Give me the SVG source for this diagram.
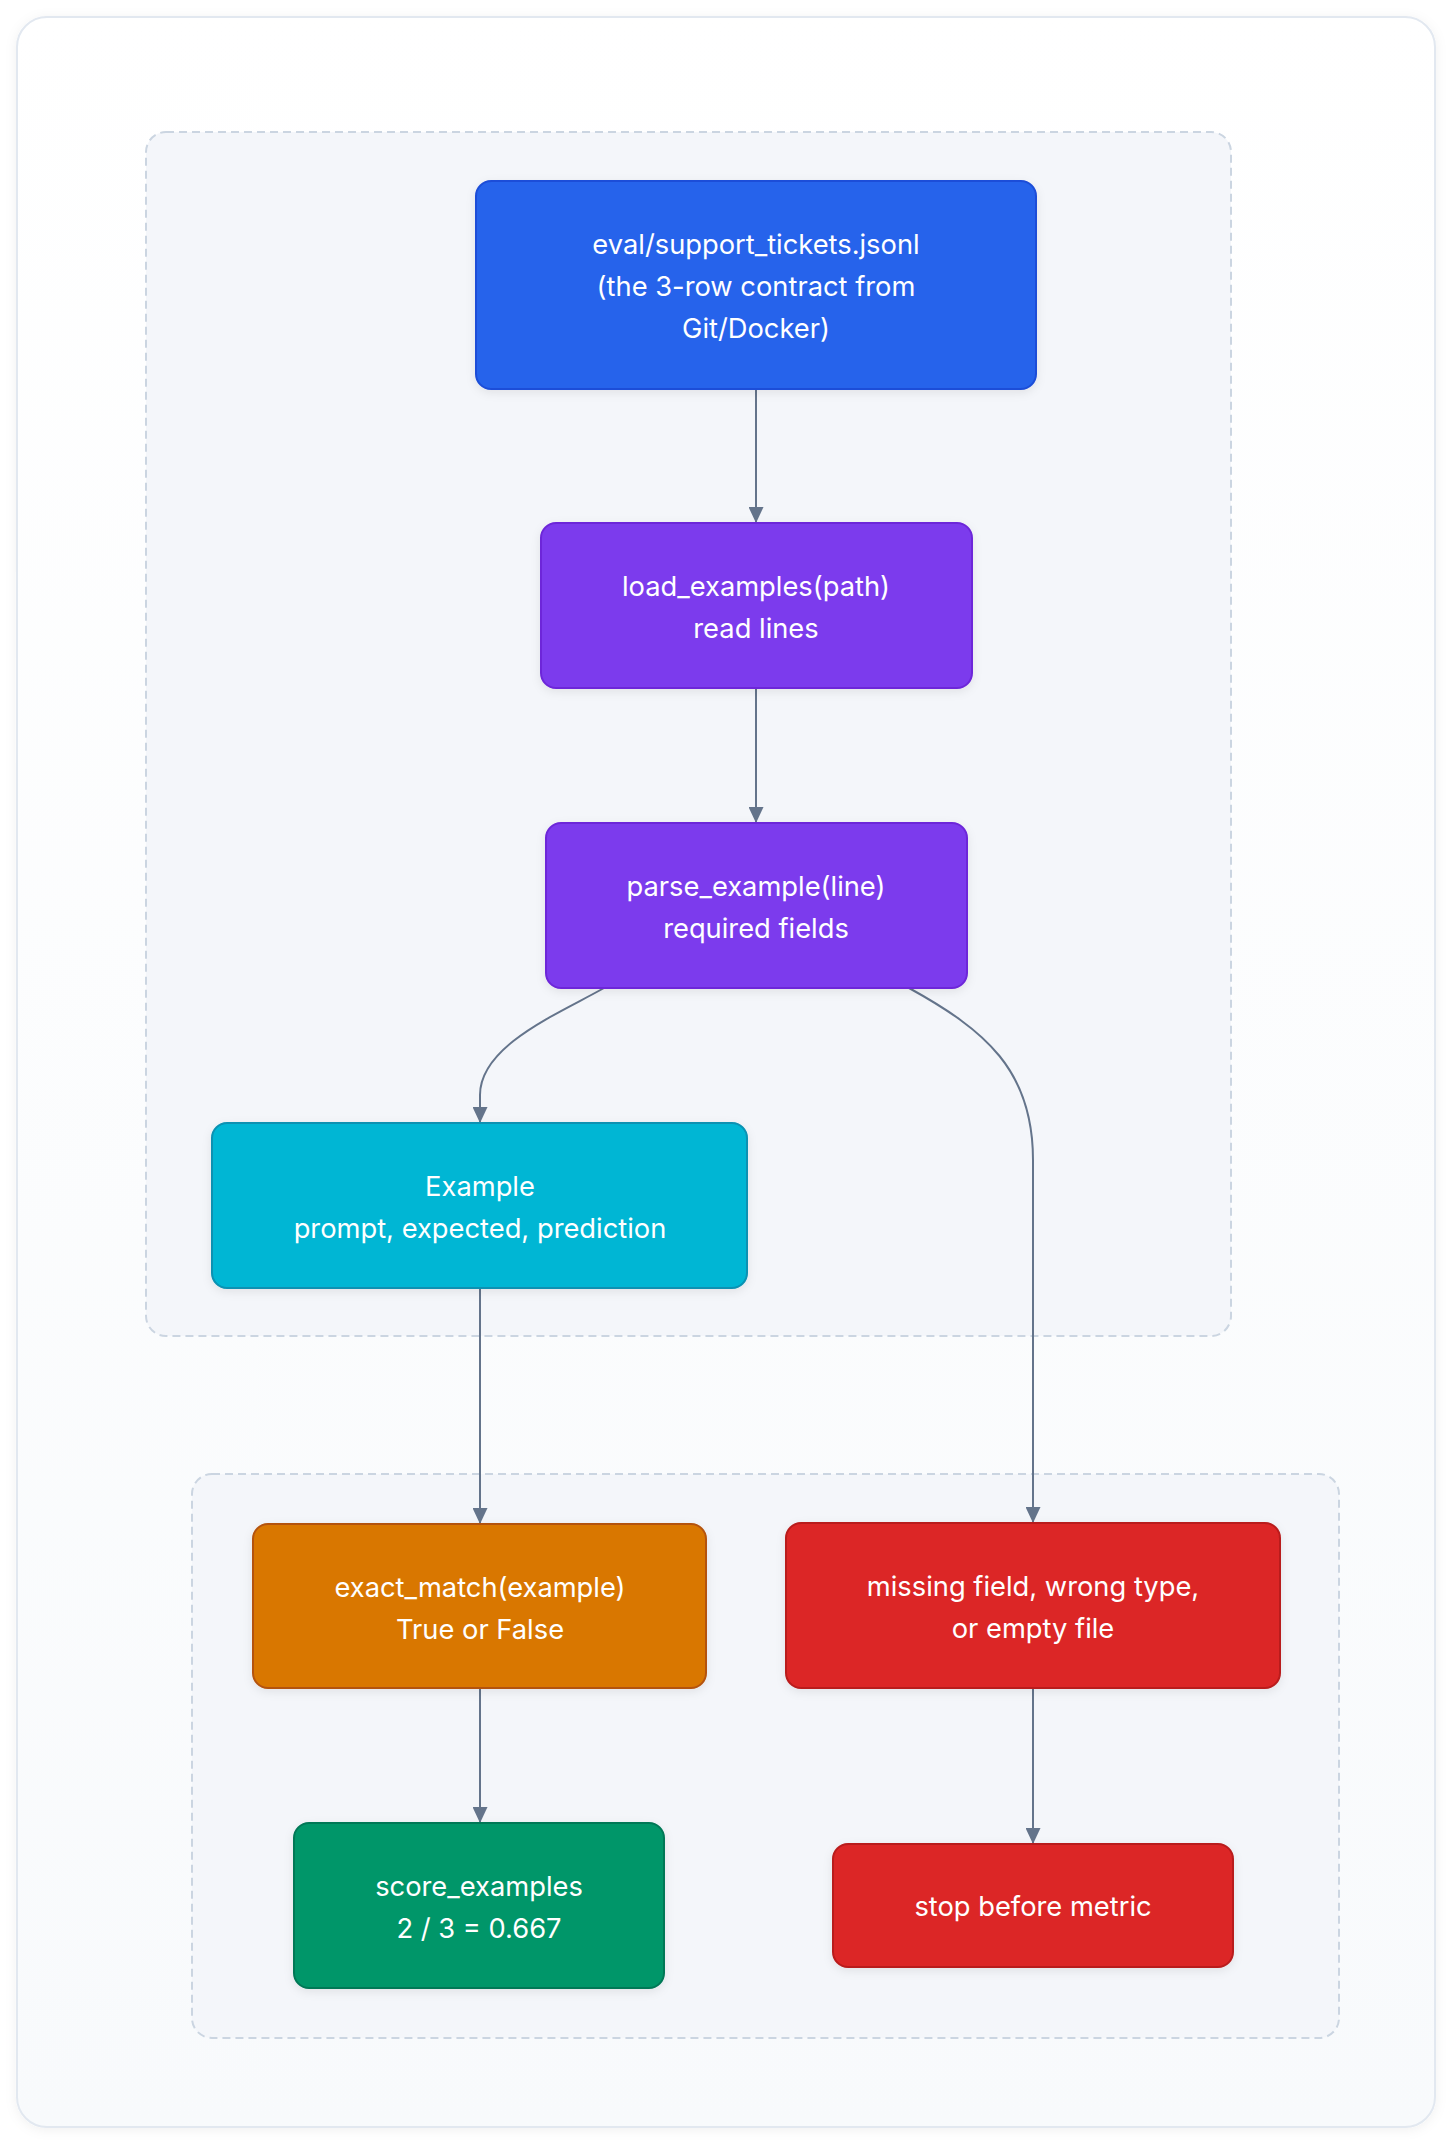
<svg xmlns="http://www.w3.org/2000/svg" width="1452" height="2144" viewBox="0 0 1452 2144">
  <style>
    .lbl { font-family: Inter, "Noto Sans", "Liberation Sans", sans-serif; font-size: 27.3px; fill: #ffffff; text-anchor: middle; }
    .cluster { fill: #f4f6fa; stroke: #cbd5e1; stroke-width: 2; stroke-dasharray: 8 5; }
    .edge { fill: none; stroke: #64748b; stroke-width: 2; }
    .node { stroke-width: 2; filter: url(#nshadow); }
  </style>
  <defs>
    <linearGradient id="cardbg" x1="0" y1="0" x2="0" y2="1">
      <stop offset="0" stop-color="#ffffff"/>
      <stop offset="1" stop-color="#f8fafc"/>
    </linearGradient>
    <filter id="cshadow" x="-5%" y="-5%" width="110%" height="110%">
      <feDropShadow dx="0" dy="2" stdDeviation="6" flood-color="#0f172a" flood-opacity="0.06"/>
    </filter>
    <filter id="nshadow" x="-10%" y="-10%" width="120%" height="130%">
      <feDropShadow dx="0" dy="3" stdDeviation="5" flood-color="#0f172a" flood-opacity="0.08"/>
    </filter>
    <marker id="arrow" viewBox="0 0 16 15" refX="16" refY="7.5" markerWidth="16" markerHeight="15" markerUnits="userSpaceOnUse" orient="auto">
      <path d="M0,0 L16,7.5 L0,15 Z" fill="#64748b"/>
    </marker>
  </defs>

  <rect x="0" y="0" width="1452" height="2144" fill="#ffffff"/>
  <rect x="17" y="17" width="1418" height="2110" rx="30" fill="url(#cardbg)" stroke="#e2e8f0" stroke-width="2" filter="url(#cshadow)"/>

  <g id="clusters">
    <rect id="cluster-load" class="cluster" x="146" y="132" width="1085" height="1204" rx="20"/>
    <rect id="cluster-score" class="cluster" x="192" y="1474" width="1147" height="564" rx="20"/>
  </g>

  <g id="connectors">
    <path class="edge" d="M756,389 L756,523" marker-end="url(#arrow)"/>
    <path class="edge" d="M756,688 L756,823" marker-end="url(#arrow)"/>
    <path class="edge" d="M604,988 C560,1013 480,1045 480,1095 L480,1123" marker-end="url(#arrow)"/>
    <path class="edge" d="M909,988 C985,1030 1033,1070 1033,1160 L1033,1523" marker-end="url(#arrow)"/>
    <path class="edge" d="M480,1288 L480,1524" marker-end="url(#arrow)"/>
    <path class="edge" d="M480,1688 L480,1823" marker-end="url(#arrow)"/>
    <path class="edge" d="M1033,1688 L1033,1844" marker-end="url(#arrow)"/>
  </g>

  <g id="node-source">
    <rect class="node" x="476" y="181" width="560" height="208" rx="15" fill="#2563eb" stroke="#1d4ed8"/>
    <text class="lbl" x="756" y="254">eval/support_tickets.jsonl</text>
    <text class="lbl" x="756" y="296">(the 3-row contract from</text>
    <text class="lbl" x="756" y="338">Git/Docker)</text>
  </g>

  <g id="node-load">
    <rect class="node" x="541" y="523" width="431" height="165" rx="15" fill="#7c3aed" stroke="#6d28d9"/>
    <text class="lbl" x="756" y="596">load_examples(path)</text>
    <text class="lbl" x="756" y="638">read lines</text>
  </g>

  <g id="node-parse">
    <rect class="node" x="546" y="823" width="421" height="165" rx="15" fill="#7c3aed" stroke="#6d28d9"/>
    <text class="lbl" x="756" y="896">parse_example(line)</text>
    <text class="lbl" x="756" y="938">required fields</text>
  </g>

  <g id="node-example">
    <rect class="node" x="212" y="1123" width="535" height="165" rx="15" fill="#06b6d4" stroke="#0891b2"/>
    <text class="lbl" x="480" y="1196">Example</text>
    <text class="lbl" x="480" y="1238">prompt, expected, prediction</text>
  </g>

  <g id="node-exact">
    <rect class="node" x="253" y="1524" width="453" height="164" rx="15" fill="#d97706" stroke="#b45309"/>
    <text class="lbl" x="480" y="1597">exact_match(example)</text>
    <text class="lbl" x="480" y="1639">True or False</text>
  </g>

  <g id="node-missing">
    <rect class="node" x="786" y="1523" width="494" height="165" rx="15" fill="#dc2626" stroke="#b91c1c"/>
    <text class="lbl" x="1033" y="1596">missing field, wrong type,</text>
    <text class="lbl" x="1033" y="1638">or empty file</text>
  </g>

  <g id="node-score">
    <rect class="node" x="294" y="1823" width="370" height="165" rx="15" fill="#059669" stroke="#047857"/>
    <text class="lbl" x="479" y="1896">score_examples</text>
    <text class="lbl" x="479" y="1938">2 / 3 = 0.667</text>
  </g>

  <g id="node-stop">
    <rect class="node" x="833" y="1844" width="400" height="123" rx="15" fill="#dc2626" stroke="#b91c1c"/>
    <text class="lbl" x="1033" y="1916">stop before metric</text>
  </g>
</svg>
